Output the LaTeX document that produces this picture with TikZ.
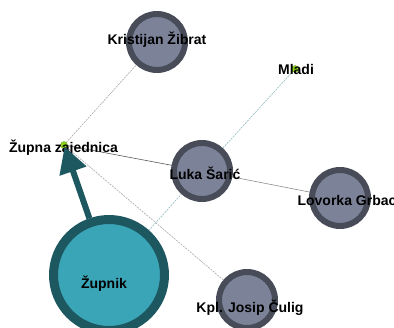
\documentclass[tikz,border=0pt]{standalone}
\usepackage{fontspec}
\setmainfont{Liberation Sans}
\usetikzlibrary{arrows.meta}
\definecolor{gfill}{HTML}{7C8399}
\definecolor{gstroke}{HTML}{474C58}
\definecolor{tfill}{HTML}{3BA5B8}
\definecolor{tstroke}{HTML}{1D5760}
\definecolor{lime}{HTML}{8CD41C}
\definecolor{lgray}{HTML}{A8A8A8}
\definecolor{lteal}{HTML}{9CC2C6}
\tikzset{
  person/.style={circle, draw=gstroke, fill=gfill, line width=6pt, minimum size=56pt, inner sep=0pt},
  big/.style={circle, draw=tstroke, fill=tfill, line width=9pt, minimum size=111pt, inner sep=0pt},
  dot/.style={circle, fill=lime, draw=lime!70!black, line width=0.3pt, minimum size=7pt, inner sep=0pt},
  lbl/.style={font=\bfseries\fontsize{14}{16}\selectfont, text=black, inner sep=0pt},
  grayedge/.style={lgray, line width=0.6pt, dash pattern=on 2pt off 1pt},
  tealedge/.style={lteal, line width=0.7pt, dash pattern=on 2pt off 1pt},
  solidedge/.style={black!65, line width=0.6pt},
  soft/.style={black!45, line width=0.6pt}
}
\begin{document}
\begin{tikzpicture}[x=1pt,y=-1pt]
\useasboundingbox (0,0) rectangle (394,327);
% node positions
\coordinate (pk) at (157,42);
\coordinate (pm) at (295,69);
\coordinate (pz) at (64,145);
\coordinate (pl) at (202,171);
\coordinate (pg) at (340,198);
\coordinate (pc) at (247,300);
\coordinate (pp) at (109,275);
% edges
\draw[grayedge] (pz) -- (pk);
\draw[grayedge] (pz) -- (pc);
\draw[solidedge] (pz) -- (pl);
\draw[soft] (pl) -- (pg);
\draw[tealedge] (pm) -- (pl);
\draw[tealedge] (pl) -- (pp);
% nodes
\node[person] (kristijan) at (pk) {};
\node[person] (luka) at (pl) {};
\node[person] (lovorka) at (pg) {};
\node[person] (culig) at (pc) {};
\node[big] (zupnik) at (pp) {};
\node[dot] (mladi) at (pm) {};
\node[dot] (zupna) at (pz) {};
% labels
\node[lbl] (tk) at (157,40) {Kristijan Žibrat};
\node[lbl] (tm) at (296,69) {Mladi};
\node[lbl] (tz) at (63.5,148) {Župna zajednica};
\node[lbl] (tl) at (205,173) {Luka Šarić};
\node[lbl] (tg) at (347,200) {Lovorka Grbac};
\node[lbl] (tc) at (250,308) {Kpl. Josip Čulig};
\node[lbl] (tp) at (104,284) {Župnik};
% arrow
\draw[tstroke, line width=6pt, -{Triangle[length=26pt,width=27pt]}, shorten >=-2pt] (zupnik) -- (zupna);
\end{tikzpicture}
\end{document}
